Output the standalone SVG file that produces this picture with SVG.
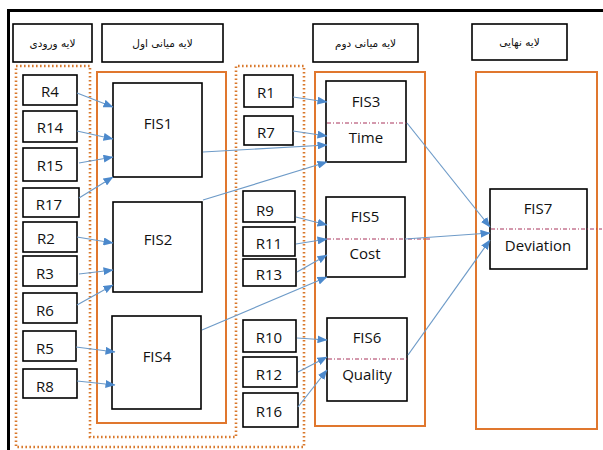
<svg xmlns="http://www.w3.org/2000/svg" width="603" height="450" viewBox="0 0 603 450">
<defs>
<style>
.box{fill:#fff;stroke:#000;stroke-width:1.6}
.hdr{fill:#fff;stroke:#000;stroke-width:1.6}
.lay{fill:none;stroke:#E0772E;stroke-width:2}
.dot{fill:none;stroke:#D9792C;stroke-width:2.6;stroke-dasharray:1.6 2.4}
.dd{stroke:#A8325A;stroke-width:1;stroke-dasharray:4 2 1 2;fill:none}
.lbl{font-family:"Open Sans","Noto Sans","Liberation Sans",sans-serif;font-size:15px;fill:#111;text-anchor:middle;dominant-baseline:central}
.fa{font-family:"DejaVu Sans","Noto Sans",sans-serif;font-size:10.5px;fill:#111;text-anchor:middle;dominant-baseline:central}
.con line{stroke:#6E9BC8;stroke-width:1.2;marker-end:url(#ah)}
</style>
<marker id="ah" markerUnits="userSpaceOnUse" markerWidth="10" markerHeight="8" refX="9.5" refY="4" orient="auto">
<path d="M0,0 L10,4 L0,8 Z" fill="#4C89CC"/>
</marker>
</defs>
<rect width="603" height="450" fill="#fff"/>
<path d="M8.5,452 V10.5 H605" fill="none" stroke="#000" stroke-width="3"/>

<g id="headers">
<g id="h-input"><rect class="hdr" x="13" y="24" width="79" height="38"/><text class="fa" x="52.5" y="43" direction="rtl">لایه ورودی</text></g>
<g id="h-mid1"><rect class="hdr" x="102" y="24" width="121" height="38"/><text class="fa" x="162.5" y="43" direction="rtl">لایه میانی اول</text></g>
<g id="h-mid2"><rect class="hdr" x="313" y="24" width="105" height="38"/><text class="fa" x="365.5" y="43" direction="rtl">لایه میانی دوم</text></g>
<g id="h-final"><rect class="hdr" x="472" y="24" width="95" height="36"/><text class="fa" x="519.5" y="42" direction="rtl">لایه نهایی</text></g>
</g>

<g id="layers">
<path class="dot" d="M16,66 H90 V437 H236 V66 H304 V447 H16 Z"/>
<rect class="lay" x="97" y="72" width="129" height="351"/>
<rect class="lay" x="315" y="72" width="110" height="354"/>
<rect class="lay" x="476" y="72" width="121" height="357"/>
</g>

<g id="R4"><rect class="box" x="23" y="75" width="54" height="30"/><text class="lbl" x="50" y="91">R4</text></g>
<g id="R14"><rect class="box" x="23" y="111" width="54" height="31"/><text class="lbl" x="50" y="127">R14</text></g>
<g id="R15"><rect class="box" x="23" y="148" width="54" height="33"/><text class="lbl" x="50" y="165">R15</text></g>
<g id="R17"><rect class="box" x="23" y="188" width="56" height="29"/><text class="lbl" x="49" y="204">R17</text></g>
<g id="R2"><rect class="box" x="23" y="222" width="54" height="30"/><text class="lbl" x="46" y="238">R2</text></g>
<g id="R3"><rect class="box" x="23" y="256" width="54" height="30"/><text class="lbl" x="45" y="273">R3</text></g>
<g id="R6"><rect class="box" x="23" y="293" width="54" height="30"/><text class="lbl" x="45" y="310">R6</text></g>
<g id="R5"><rect class="box" x="23" y="331" width="53" height="30"/><text class="lbl" x="45" y="348">R5</text></g>
<g id="R8"><rect class="box" x="23" y="369" width="54" height="29"/><text class="lbl" x="45" y="386">R8</text></g>

<g id="FIS1"><rect class="box" x="113" y="83" width="89" height="94"/><text class="lbl" x="158" y="123">FIS1</text></g>
<g id="FIS2"><rect class="box" x="113" y="202" width="89" height="90"/><text class="lbl" x="158" y="239">FIS2</text></g>
<g id="FIS4"><rect class="box" x="112" y="316" width="89" height="93"/><text class="lbl" x="157" y="356">FIS4</text></g>

<g id="R1"><rect class="box" x="244" y="75" width="49" height="32"/><text class="lbl" x="266" y="92">R1</text></g>
<g id="R7"><rect class="box" x="244" y="116" width="49" height="29"/><text class="lbl" x="266" y="132">R7</text></g>
<g id="R9"><rect class="box" x="243" y="191" width="52" height="31"/><text class="lbl" x="265" y="210">R9</text></g>
<g id="R11"><rect class="box" x="243" y="227" width="52" height="29"/><text class="lbl" x="269" y="243">R11</text></g>
<g id="R13"><rect class="box" x="243" y="259" width="53" height="27"/><text class="lbl" x="269" y="274">R13</text></g>
<g id="R10"><rect class="box" x="243" y="320" width="53" height="32"/><text class="lbl" x="269" y="337">R10</text></g>
<g id="R12"><rect class="box" x="243" y="357" width="54" height="30"/><text class="lbl" x="269" y="374">R12</text></g>
<g id="R16"><rect class="box" x="243" y="393" width="55" height="34"/><text class="lbl" x="269" y="411">R16</text></g>

<g id="FIS3"><rect class="box" x="326" y="81" width="80" height="81"/><line class="dd" x1="327" y1="123" x2="407" y2="123"/><text class="lbl" x="366" y="101">FIS3</text><text class="lbl" x="366" y="137">Time</text></g>
<g id="FIS5"><rect class="box" x="326" y="197" width="79" height="80"/><line class="dd" x1="327" y1="239" x2="430" y2="239"/><text class="lbl" x="365" y="216">FIS5</text><text class="lbl" x="365" y="253">Cost</text></g>
<g id="FIS6"><rect class="box" x="327" y="318" width="80" height="83"/><line class="dd" x1="328" y1="359" x2="407" y2="359"/><text class="lbl" x="367" y="337">FIS6</text><text class="lbl" x="367" y="374">Quality</text></g>
<g id="FIS7"><rect class="box" x="490" y="189" width="97" height="80"/><line class="dd" x1="491" y1="229" x2="602" y2="229"/><text class="lbl" x="538" y="208">FIS7</text><text class="lbl" x="538" y="245">Deviation</text></g>

<g id="connectors" class="con">
<line x1="77" y1="93" x2="113" y2="107"/>
<line x1="77" y1="131" x2="113" y2="139"/>
<line x1="79" y1="163" x2="113" y2="157"/>
<line x1="79" y1="198" x2="113" y2="177"/>
<line x1="77" y1="237" x2="113" y2="243"/>
<line x1="79" y1="274" x2="113" y2="270"/>
<line x1="77" y1="305" x2="113" y2="285"/>
<line x1="76" y1="347" x2="115" y2="352"/>
<line x1="77" y1="381" x2="115" y2="385"/>
<line x1="203" y1="152" x2="327" y2="145"/>
<line x1="203" y1="200" x2="327" y2="162"/>
<line x1="202" y1="330" x2="327" y2="277"/>
<line x1="293" y1="97" x2="327" y2="102"/>
<line x1="293" y1="131" x2="327" y2="136"/>
<line x1="296" y1="217" x2="327" y2="225"/>
<line x1="296" y1="244" x2="327" y2="239"/>
<line x1="297" y1="272" x2="327" y2="255"/>
<line x1="297" y1="338" x2="327" y2="340"/>
<line x1="298" y1="372" x2="327" y2="357"/>
<line x1="298" y1="407" x2="327" y2="370"/>
<line x1="407" y1="123" x2="490" y2="227"/>
<line x1="405" y1="239" x2="490" y2="233"/>
<line x1="408" y1="355" x2="490" y2="240"/>
</g>
</svg>
